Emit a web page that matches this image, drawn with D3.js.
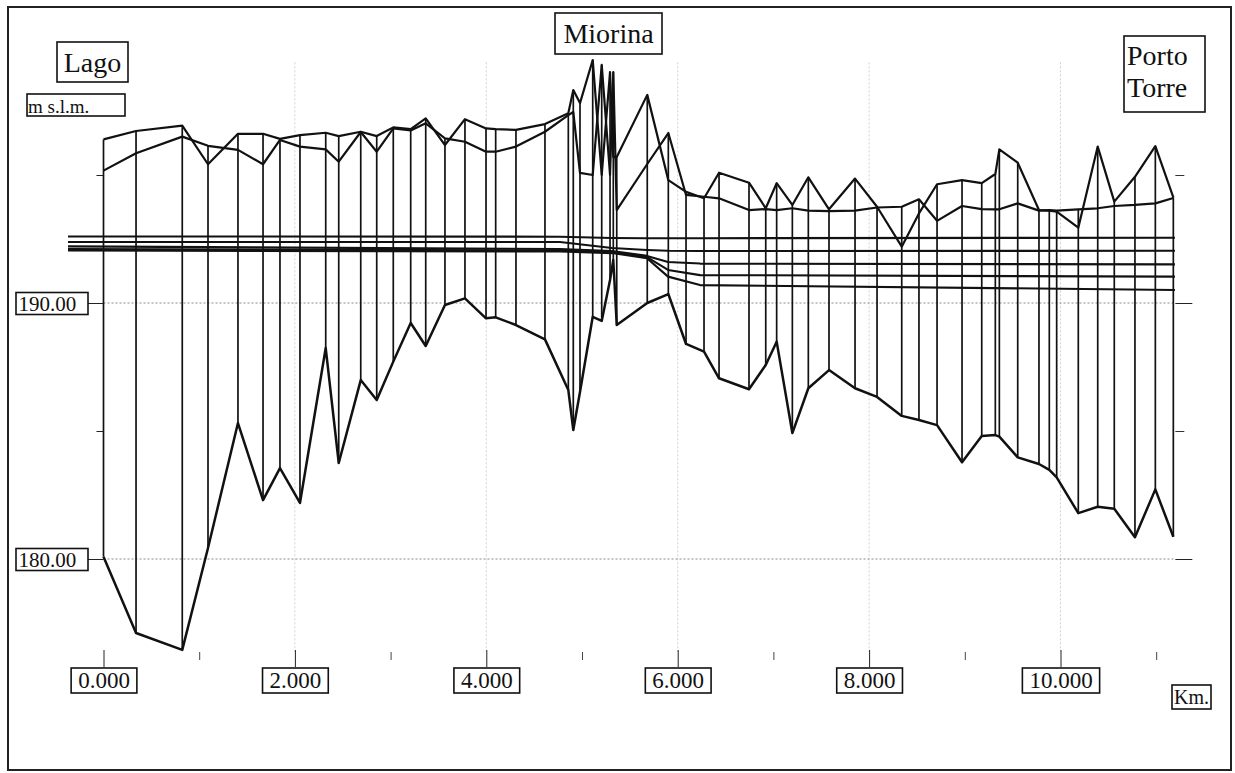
<!DOCTYPE html>
<html>
<head>
<meta charset="utf-8">
<script src="https://cdn.jsdelivr.net/npm/d3@7"></script>
<style>
  body { margin: 0; background: #fff; }
  svg text { font-family: "Liberation Serif", "Times New Roman", serif; fill: #111; }
</style>
</head>
<body>
<svg id="chart" width="1235" height="773"></svg>
<script>
// cross sections: distance from the lake (km) and levels (m s.l.m.)
var sectionKm = [0.000, 0.340, 0.823, 1.092, 1.405, 1.667, 1.844, 2.053, 2.322, 2.458,
  2.688, 2.855, 3.028, 3.210, 3.367, 3.568, 3.777, 3.997, 4.098, 4.310,
  4.613, 4.857, 4.909, 4.979, 5.112, 5.206, 5.293, 5.327, 5.363, 5.682,
  5.902, 6.087, 6.275, 6.432, 6.745, 6.920, 7.034, 7.198, 7.365, 7.581,
  7.853, 8.083, 8.341, 8.521, 8.710, 8.971, 9.177, 9.319, 9.361, 9.553,
  9.775, 9.883, 9.960, 10.186, 10.389, 10.562, 10.778, 10.991, 11.179];

var bankLeft = [196.39, 196.72, 196.93, 195.42, 196.61, 196.61, 196.41, 196.56, 196.65, 196.52,
  196.69, 196.52, 196.86, 196.79, 197.21, 196.17, 197.18, 196.82, 196.79, 196.76,
  196.99, 197.41, 198.32, 197.81, 199.49, 195.00, 199.02, 195.70, 195.70, 198.13,
  194.80, 194.34, 194.09, 195.09, 194.70, 193.70, 194.68, 193.83, 194.91, 193.66,
  194.86, 193.76, 192.20, 193.50, 194.64, 194.80, 194.68, 195.04, 196.00, 195.48,
  193.63, 193.61, 193.57, 192.94, 196.11, 193.96, 194.93, 196.13, 194.13];

var bankRight = [195.17, 195.85, 196.50, 196.14, 195.98, 195.42, 196.37, 196.11, 196.00, 195.52,
  196.68, 195.91, 196.82, 196.74, 197.02, 196.43, 196.30, 195.91, 195.91, 196.11,
  196.69, 197.34, 197.46, 195.08, 195.00, 199.30, 195.00, 199.02, 193.63, 195.43,
  196.64, 194.22, 194.15, 194.09, 193.63, 193.67, 193.63, 193.70, 193.61, 193.59,
  193.61, 193.73, 193.76, 194.05, 193.21, 193.79, 193.67, 193.66, 193.66, 193.89,
  193.61, 193.63, 193.61, 193.66, 193.70, 193.79, 193.83, 193.89, 194.10];

var bedLevel = [180.09, 177.11, 176.45, 180.43, 185.31, 182.30, 183.55, 182.19, 188.24, 183.75,
  186.99, 186.21, 187.71, 189.22, 188.32, 189.92, 190.18, 189.40, 189.44, 189.14,
  188.58, 186.60, 185.04, 186.52, 189.46, 189.30, 190.90, 191.68, 189.14, 190.00,
  190.35, 188.40, 188.10, 187.06, 186.63, 187.58, 188.49, 184.92, 186.67, 187.38,
  186.67, 186.33, 185.59, 185.43, 185.23, 183.78, 184.80, 184.84, 184.78, 183.97,
  183.71, 183.48, 183.19, 181.79, 182.04, 181.96, 180.85, 182.72, 180.87];

// water surface profiles
var wsKm = [-0.371, 4.770, 5.313, 5.679, 5.899, 6.233, 11.196];
var ws1 = [192.60, 192.59, 192.54, 192.53, 192.53, 192.53, 192.55];
var ws2 = [192.38, 192.38, 192.15, 192.07, 192.04, 192.03, 192.04];
var ws3 = [192.21, 192.11, 192.03, 191.84, 191.60, 191.54, 191.51];
var ws4 = [192.11, 192.05, 191.99, 191.79, 191.29, 191.09, 191.03];
var ws5 = [192.05, 192.01, 191.95, 191.75, 191.03, 190.70, 190.51];

var xMajorTicks = [0, 2, 4, 6, 8, 10];
var xMinorTicks = [1, 3, 5, 7, 9, 11];
var yMajorTicks = [180, 190];
var yMinorTicks = [185, 195];

var svg = d3.select("#chart");

var x = d3.scaleLinear().domain([0, 10]).range([103.5, 1060.5]);
var y = d3.scaleLinear().domain([180, 190]).range([559, 303]);
var xEnd = x(11.2);

// outer frame
svg.append("rect")
  .attr("x", 8).attr("y", 7)
  .attr("width", 1223).attr("height", 763)
  .attr("fill", "none")
  .attr("stroke", "#222")
  .attr("stroke-width", 2);

// faint grid
svg.selectAll(".vgrid")
  .data(xMajorTicks.slice(1))
  .enter()
  .append("line")
  .attr("x1", function(d) { return x(d); })
  .attr("x2", function(d) { return x(d); })
  .attr("y1", y(199.4))
  .attr("y2", 652)
  .attr("stroke", "#d0d0d0")
  .attr("stroke-width", 1)
  .attr("stroke-dasharray", "2,2");

svg.selectAll(".hgrid")
  .data(yMajorTicks)
  .enter()
  .append("line")
  .attr("x1", x(0))
  .attr("x2", xEnd)
  .attr("y1", function(d) { return y(d); })
  .attr("y2", function(d) { return y(d); })
  .attr("stroke", "#8a8a8a")
  .attr("stroke-width", 1)
  .attr("stroke-dasharray", "2,2");

// sections table
var sections = sectionKm.map(function(k, i) {
  return { km: k, a: bankLeft[i], b: bankRight[i], bed: bedLevel[i] };
});

// vertical section lines, bed up to the higher bank
svg.selectAll(".section")
  .data(sections)
  .enter()
  .append("line")
  .attr("x1", function(d) { return x(d.km); })
  .attr("x2", function(d) { return x(d.km); })
  .attr("y1", function(d) { return y(d.bed); })
  .attr("y2", function(d) { return y(Math.max(d.a, d.b)); })
  .attr("stroke", "#111")
  .attr("stroke-width", 1.7);

function drawLine(data, xf, yf, width) {
  var gen = d3.line().x(xf).y(yf);
  svg.append("path")
    .datum(data)
    .attr("d", gen)
    .attr("fill", "none")
    .attr("stroke", "#111")
    .attr("stroke-width", width)
    .attr("stroke-linejoin", "round");
}

drawLine(sections, function(d) { return x(d.km); }, function(d) { return y(d.a); }, 2.2);
drawLine(sections, function(d) { return x(d.km); }, function(d) { return y(d.b); }, 2.2);
drawLine(sections, function(d) { return x(d.km); }, function(d) { return y(d.bed); }, 2.5);

// water profiles
[ws1, ws2, ws3, ws4, ws5].forEach(function(ws) {
  drawLine(ws.map(function(v, i) { return { km: wsKm[i], z: v }; }),
    function(d) { return x(d.km); }, function(d) { return y(d.z); }, 2.1);
});

// x axis
var xAxis = svg.append("g")
  .attr("transform", "translate(0,650)")
  .attr("color", "#222")
  .call(d3.axisBottom(x).tickValues(xMajorTicks).tickSize(17).tickPadding(5).tickFormat(d3.format(".3f")));
xAxis.select(".domain").remove();
xAxis.selectAll(".tick text").style("font-size", "23px");
xAxis.selectAll(".tick").each(function() {
  var t = d3.select(this).select("text");
  var bb = t.node().getBBox();
  d3.select(this).insert("rect", "text")
    .attr("x", bb.x - 7).attr("y", 18)
    .attr("width", bb.width + 14).attr("height", 25)
    .attr("fill", "#fff")
    .attr("stroke", "#111")
    .attr("stroke-width", 1.6);
});

var xMinor = svg.append("g")
  .attr("transform", "translate(0,652)")
  .attr("color", "#444")
  .call(d3.axisBottom(x).tickValues(xMinorTicks).tickSize(8).tickFormat(""));
xMinor.select(".domain").remove();

// left axis
var yAxis = svg.append("g")
  .attr("transform", "translate(" + x(0) + ",0)")
  .attr("color", "#222")
  .call(d3.axisLeft(y).tickValues(yMajorTicks).tickSize(16).tickFormat(d3.format(".2f")));
yAxis.select(".domain").remove();
yAxis.selectAll(".tick text")
  .attr("x", -85)
  .attr("dy", "0.38em")
  .style("text-anchor", "start")
  .style("font-size", "21px");
yAxis.selectAll(".tick").insert("rect", "text")
  .attr("x", -87.5).attr("y", -11)
  .attr("width", 72).attr("height", 22)
  .attr("fill", "#fff")
  .attr("stroke", "#111")
  .attr("stroke-width", 1.6);

var yMinor = svg.append("g")
  .attr("transform", "translate(" + x(0) + ",0)")
  .attr("color", "#222")
  .call(d3.axisLeft(y).tickValues(yMinorTicks).tickSize(7).tickFormat(""));
yMinor.select(".domain").remove();

// right axis
var yRight = svg.append("g")
  .attr("transform", "translate(" + xEnd + ",0)")
  .attr("color", "#222")
  .call(d3.axisRight(y).tickValues(yMajorTicks).tickSize(17).tickFormat(""));
yRight.select(".domain").remove();
var yRightMinor = svg.append("g")
  .attr("transform", "translate(" + xEnd + ",0)")
  .attr("color", "#333")
  .call(d3.axisRight(y).tickValues(yMinorTicks).tickSize(9).tickFormat(""));
yRightMinor.select(".domain").remove();

// boxed annotations
function boxedLabel(bx, by, bw, bh, lines, size, tx, anchor, lineGap) {
  svg.append("rect")
    .attr("x", bx).attr("y", by)
    .attr("width", bw).attr("height", bh)
    .attr("fill", "#fff")
    .attr("stroke", "#111")
    .attr("stroke-width", 1.6);
  lines.forEach(function(txt, i) {
    svg.append("text")
      .attr("x", tx)
      .attr("y", lineGap[i])
      .attr("text-anchor", anchor)
      .style("font-size", size + "px")
      .text(txt);
  });
}

boxedLabel(57, 42, 71, 40, ["Lago"], 28, 92.5, "middle", [72]);
boxedLabel(27, 94, 98, 22, ["m s.l.m."], 19, 28, "start", [113]);
boxedLabel(555, 13, 107, 41, ["Miorina"], 28, 608.5, "middle", [43]);
boxedLabel(1124, 36, 81, 76, ["Porto", "Torre"], 28, 1127, "start", [65, 97]);
boxedLabel(1172, 685, 39, 24, ["Km."], 20, 1174, "start", [704]);
</script>
</body>
</html>
